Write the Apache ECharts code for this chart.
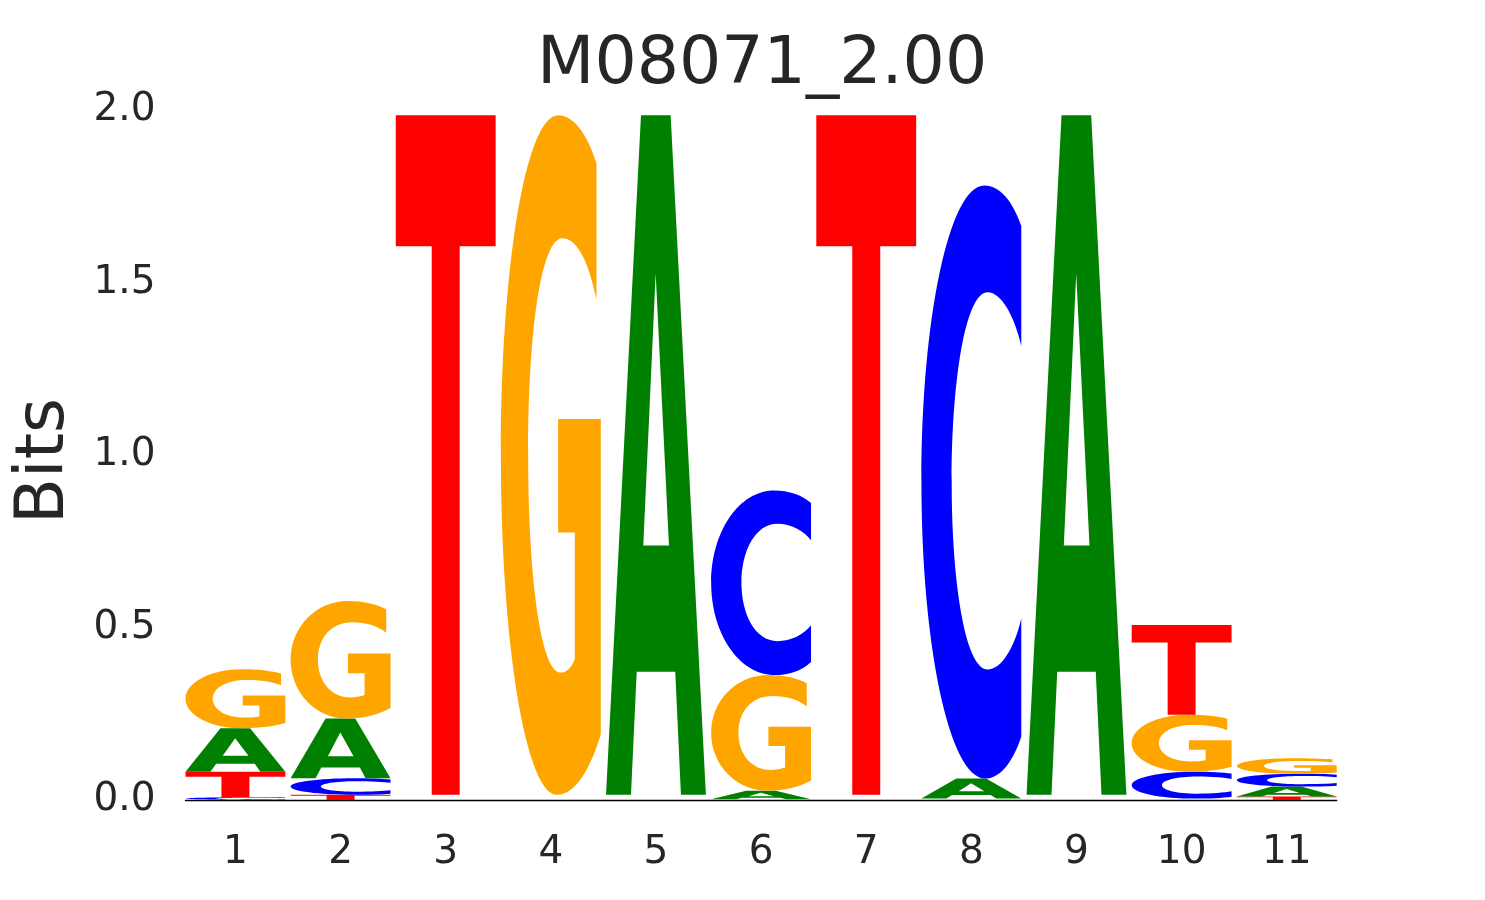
<!DOCTYPE html>
<html>
<head>
<meta charset="utf-8">
<script src="https://cdn.jsdelivr.net/npm/echarts@6/dist/echarts.min.js"></script>
<style>html,body{margin:0;padding:0;background:#fff;}#chart{width:1485px;height:900px;}</style>
</head>
<body>
<div id="chart"></div>
<script>
// ---- data ----
var positions = [1, 2, 3, 4, 5, 6, 7, 8, 9, 10, 11];
var bitsA = [0.126, 0.173, 0.005, 0.005, 1.970, 0.025, 0.005, 0.058, 1.970, 0.004, 0.029];
var bitsC = [0.008, 0.048, 0.005, 0.005, 0.005, 0.535, 0.005, 1.719, 0.005, 0.078, 0.037];
var bitsG = [0.171, 0.341, 0.005, 1.970, 0.005, 0.335, 0.005, 0.002, 0.005, 0.165, 0.045];
var bitsT = [0.074, 0.015, 1.970, 0.005, 0.005, 0.002, 1.970, 0.002, 0.005, 0.260, 0.010];
var yTicks = [0, 0.5, 1.0, 1.5, 2.0];
var titleText = 'M08071_2.00';

// ---- glyph outlines (unit box 0..100, y down) ----
var glyphs = {
  A: 'M0 100 L35 0 L64.7 0 L100 100 L75 100 L69.3 81.9 L30.7 81.9 L25 100 Z M49.7 23.3 L37.3 63.3 L63 63.3 Z',
  C: 'M100 6.8 C91 2.5 78 0 63 0 C28 0 0 22.4 0 50 C0 77.6 28 100 64 100 C78 100 91 97.5 100 92.9 L100 73 C93 78 80 81.6 66.3 81.6 C44 81.6 30.3 67 30.3 50 C30.3 33 44 18 66.3 18 C80 18 93 22 100 27 Z',
  G: 'M95.7 7.1 C86 2.5 72 0 57.3 0 C25 0 0 22.4 0 50 C0 77.6 25 100 56.3 100 C75 100 90 96 100 91.1 L100 44.7 L57.3 44.7 L57.3 61.4 L74 61.4 L74 80 C70 81.5 65 82 59.7 82 C40 82 27.3 68 27.3 50 C27.3 32 40 18.1 61.7 18.1 C75 18.1 87 21 95.7 27.1 Z',
  T: 'M0 0 L100 0 L100 19.3 L64 19.3 L64 100 L36 100 L36 19.3 L0 19.3 Z'
};
var colors = { A: '#008000', C: '#0000ff', G: '#ffa500', T: '#ff0000' };
var letters = ['A', 'C', 'G', 'T'];
var glyphWidth = 0.95;

// build stacked items (smallest at bottom)
var items = [];
positions.forEach(function (p, i) {
  var vals = [bitsA[i], bitsC[i], bitsG[i], bitsT[i]];
  var order = [0, 1, 2, 3].sort(function (a, b) { return vals[a] - vals[b]; });
  var base = 0;
  order.forEach(function (k) {
    items.push([p, base, vals[k], k]);
    base += vals[k];
  });
});

var chart = echarts.init(document.getElementById('chart'));
var font = 'DejaVu Sans';
chart.setOption({
  animation: false,
  backgroundColor: '#ffffff',
  title: {
    text: titleText, left: 532, top: 27,
    textStyle: { fontFamily: font, fontSize: 66.5, fontWeight: 'normal', color: '#262626' }
  },
  grid: { left: 185.5, right: 148.3, top: 110, bottom: 100, containLabel: false, outerBoundsMode: 'none' },
  xAxis: {
    type: 'value', min: 0.525, max: 11.475,
    axisLine: { show: true, lineStyle: { color: '#000', width: 1.3 } },
    axisTick: { show: false },
    splitLine: { show: false },
    axisLabel: { customValues: positions, fontFamily: font, fontSize: 39, color: '#262626', margin: 33 }
  },
  yAxis: {
    type: 'value', min: 0, max: 2, interval: 0.5,
    name: 'Bits', nameLocation: 'middle', nameGap: 106,
    nameTextStyle: { fontFamily: font, fontSize: 67, color: '#262626', padding: [0, 12, 0, 0] },
    axisLine: { show: false }, axisTick: { show: false }, splitLine: { show: false },
    axisLabel: {
      customValues: yTicks,
      formatter: function (v) { return v.toFixed(1); },
      fontFamily: font, fontSize: 39, color: '#262626', margin: 30, padding: [6, 0, 0, 0]
    }
  },
  series: [{
    type: 'custom',
    data: items,
    clip: false,
    encode: { x: 0, y: 1 },
    renderItem: function (params, api) {
      var x = api.value(0), b = api.value(1), h = api.value(2), k = api.value(3);
      var p0 = api.coord([x - glyphWidth / 2, b + h]);
      var p1 = api.coord([x + glyphWidth / 2, b]);
      var hh = p1[1] - p0[1];
      if (hh < 2) return null;
      var L = letters[k];
      return {
        type: 'path',
        shape: { pathData: glyphs[L], x: p0[0], y: p0[1], width: p1[0] - p0[0], height: hh, layout: 'cover' },
        style: { fill: colors[L] }
      };
    }
  }]
});
</script>
</body>
</html>
